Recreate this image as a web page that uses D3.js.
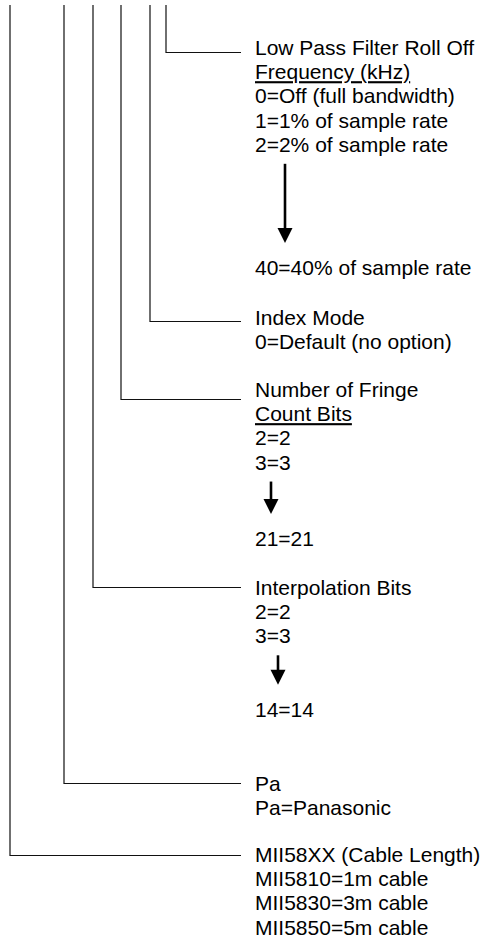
<!DOCTYPE html>
<html>
<head>
<meta charset="utf-8">
<script src="https://cdn.jsdelivr.net/npm/d3@7"></script>
<style>
  html, body { margin: 0; padding: 0; background: #fff; }
  svg { display: block; }
  text { font-family: "Liberation Sans", Arial, sans-serif; fill: #000; }
</style>
</head>
<body>
<script>
// ---- data ----
const headings = ["Low Pass Filter Roll Off", "Index Mode", "Number of Fringe", "Interpolation Bits", "Pa", "MII58XX (Cable Length)"];
const subHeadings = ["Frequency (kHz)", null, "Count Bits", null, null, null];
const options = [
  ["0=Off (full bandwidth)", "1=1% of sample rate", "2=2% of sample rate"],
  ["0=Default (no option)"],
  ["2=2", "3=3"],
  ["2=2", "3=3"],
  ["Pa=Panasonic"],
  ["MII5810=1m cable", "MII5830=3m cable", "MII5850=5m cable"]
];
const lastOptions = ["40=40% of sample rate", null, "21=21", "14=14", null, null];

// ---- layout (row units, separate from data) ----
const headRow = [0, 11.16, 14.13, 22.31, 30.4, 33.35];
const lastRow = [9.09, null, 20.29, 27.34, null, null];
const leaderRow = [-0.14, 10.98, 14.21, 21.97, 30.1, 33.06];
const stemX = [166, 150, 121, 93, 64, 10];
const arrowX = [285, null, 271, 278];
const W = 483, H = 942;
const textX = 255, leaderEnd = 241, stemTop = 5;

const y = d3.scaleLinear().domain([0, 1]).range([55, 79.2]);

const svg = d3.select("body").append("svg").attr("width", W).attr("height", H);

// stems and leaders
const g = svg.append("g");
headings.forEach((h, i) => {
  const ly = Math.round(y(leaderRow[i])) + 0.5;
  g.append("path")
    .attr("d", `M${stemX[i]},${stemTop} V${ly} H${leaderEnd}`)
    .attr("fill", "none")
    .attr("stroke", "#111")
    .attr("stroke-width", 1.2);
});

// text blocks
const fs = 21;
headings.forEach((h, i) => {
  let r = headRow[i];
  const lines = [{t: h}];
  if (subHeadings[i]) lines.push({t: subHeadings[i], u: true});
  options[i].forEach(o => lines.push({t: o}));
  lines.forEach((l, k) => {
    svg.append("text")
      .attr("x", textX)
      .attr("y", y(r + k))
      .attr("font-size", fs)
      .style("text-decoration", l.u ? "underline" : "none")
      .text(l.t);
  });
  const endRow = r + lines.length - 1;
  if (lastOptions[i]) {
    svg.append("text")
      .attr("x", textX)
      .attr("y", y(lastRow[i]))
      .attr("font-size", fs)
      .text(lastOptions[i]);
    // arrow between last listed option and final option
    const x = arrowX[i];
    const top = y(endRow) + 12;
    const tip = y(lastRow[i]) - 32;
    const headLen = 15, headW = 7.5;
    svg.append("line")
      .attr("x1", x).attr("x2", x)
      .attr("y1", top).attr("y2", tip - headLen + 1)
      .attr("stroke", "#000").attr("stroke-width", 2.6);
    svg.append("path")
      .attr("d", `M${x - headW},${tip - headLen} L${x + headW},${tip - headLen} L${x},${tip} Z`)
      .attr("fill", "#000");
  }
});
</script>
</body>
</html>
